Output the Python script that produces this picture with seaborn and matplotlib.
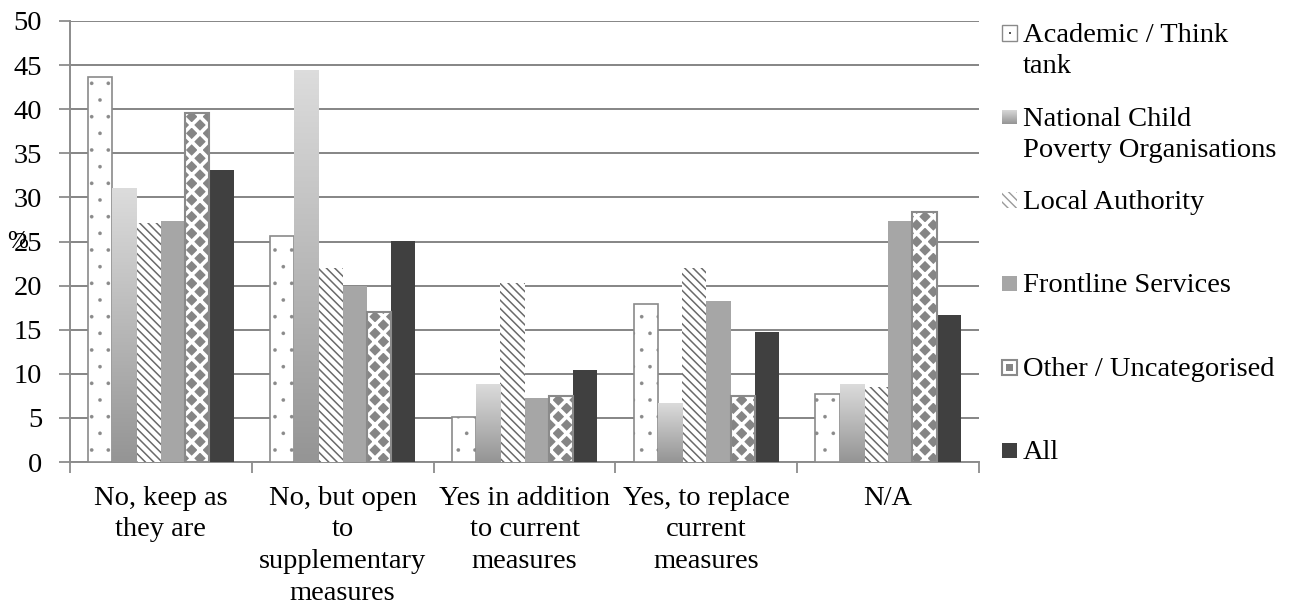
import numpy as np
import pandas as pd
import matplotlib
matplotlib.use("Agg")
import matplotlib.pyplot as plt
import seaborn as sns
from matplotlib.colors import LinearSegmentedColormap
from matplotlib.patches import Rectangle

responses = [
    "No, keep as\nthey are",
    "No, but open\nto\nsupplementary\nmeasures",
    "Yes in addition\nto current\nmeasures",
    "Yes, to replace\ncurrent\nmeasures",
    "N/A",
]
groups = [
    "Academic / Think tank",
    "National Child Poverty Organisations",
    "Local Authority",
    "Frontline Services",
    "Other / Uncategorised",
    "All",
]
legend_labels = [
    "Academic / Think\ntank",
    "National Child\nPoverty Organisations",
    "Local Authority",
    "Frontline Services",
    "Other / Uncategorised",
    "All",
]
academic = [43.6, 25.6, 5.1, 17.9, 7.7]
national = [31.1, 44.4, 8.9, 6.7, 8.9]
local_auth = [27.1, 22.0, 20.3, 22.0, 8.5]
frontline = [27.3, 20.0, 7.3, 18.2, 27.3]
other = [39.6, 17.0, 7.5, 7.5, 28.3]
all_resp = [33.1, 25.1, 10.4, 14.7, 16.7]
y_ticks = [0, 5, 10, 15, 20, 25, 30, 35, 40, 45, 50]

series = [academic, national, local_auth, frontline, other, all_resp]
df = pd.DataFrame(
    [(r, g, v) for g, vals in zip(groups, series) for r, v in zip(responses, vals)],
    columns=["response", "group", "pct"],
)

sns.set_theme(style="white")
plt.rcParams["font.family"] = ["Liberation Serif", "DejaVu Serif"]
for key in ["text.color", "axes.labelcolor", "xtick.labelcolor", "ytick.labelcolor"]:
    plt.rcParams[key] = "black"
FS = 20.5

fig = plt.figure(figsize=(13, 6.1), dpi=100)
W, H = 1300, 610
ax = fig.add_axes([70 / W, 1 - 462 / H, (979 - 70) / W, (462 - 21) / H])

palette = ["#ffffff", "#bdbdbd", "#ffffff", "#a6a6a6", "#858585", "#404040"]
sns.barplot(data=df, x="response", y="pct", hue="group", order=responses,
            hue_order=groups, palette=palette, width=0.8, saturation=1,
            legend=False, ax=ax, zorder=3)

def set_hlw(p, lw):
    if hasattr(p, "set_hatch_linewidth"):
        p.set_hatch_linewidth(lw)
    else:
        p._hatch_linewidth = lw

grad = LinearSegmentedColormap.from_list("g", ["#959595", "#dcdcdc"])
for i, cont in enumerate(ax.containers):
    for p in cont.patches:
        x, w, h = p.get_x(), p.get_width(), p.get_height()
        if i == 0:
            p.set_facecolor("white"); p.set_edgecolor("#8a8a8a")
            p.set_hatch("."); p.set_linewidth(1.2); set_hlw(p, 0.2)
        elif i == 1:
            p.set_linewidth(0)
            im = ax.imshow(np.linspace(0, 1, 100).reshape(-1, 1)[::-1], cmap=grad,
                           extent=[x, x + w, 0, h], aspect="auto", zorder=3.1,
                           interpolation="bilinear")
            im.set_clip_path(p)
        elif i == 2:
            p.set_facecolor("white"); p.set_edgecolor("#6a6a6a")
            p.set_hatch("\\\\\\\\"); p.set_linewidth(0); set_hlw(p, 1.1)
        elif i == 3:
            p.set_linewidth(0)
        elif i == 4:
            p.set_facecolor("#858585"); p.set_edgecolor("white")
            p.set_hatch("xx"); p.set_linewidth(0); set_hlw(p, 2.6)
            ax.add_patch(Rectangle((x, 0), w, h, fill=False, edgecolor="#8a8a8a",
                                   linewidth=1.5, zorder=3.5))
        else:
            p.set_linewidth(0)

ax.set_xlim(-0.5, len(responses) - 0.5)
ax.set_ylim(0, 50)
ax.set_yticks(y_ticks)
ax.set_yticklabels([str(t) for t in y_ticks], fontsize=FS)
ax.yaxis.grid(True, color="#858585", linewidth=1.4, zorder=0)
ax.set_axisbelow(True)
ax.set_xlabel("")
ax.set_ylabel("%", rotation=0, fontsize=18, labelpad=0, va="center", ha="center")
ax.yaxis.set_label_coords(-0.058, 0.50)

ax.set_xticks(range(len(responses)))
ax.set_xticklabels(responses, fontsize=FS, linespacing=1.36, va="top")
ax.set_xticks(np.arange(-0.5, len(responses)), minor=True)
ax.tick_params(axis="x", which="major", length=0, pad=17)
ax.tick_params(axis="x", which="minor", length=8, width=1.3, color="#8c8c8c",
               direction="out", bottom=True)
ax.tick_params(axis="y", length=8, width=1.3, color="#8c8c8c", direction="out",
               left=True, pad=12)

for s in ["top", "right"]:
    ax.spines[s].set_visible(False)
for s in ["left", "bottom"]:
    ax.spines[s].set_color("#8c8c8c")
    ax.spines[s].set_linewidth(1.4)

# legend drawn on the figure
centers = [33, 117, 200, 283, 367, 450]
sq = 15
for i, (lab, cy) in enumerate(zip(legend_labels, centers)):
    x0 = 1002 / W
    y0 = 1 - (cy + sq / 2) / H
    kw = dict(transform=fig.transFigure, figure=fig, zorder=5)
    if i == 0:
        r = Rectangle((x0, y0), sq / W, sq / H, facecolor="white",
                      edgecolor="#8a8a8a", linewidth=1.0, **kw)
        fig.patches.append(r)
        fig.patches.append(Rectangle((x0 + 7 / W, y0 + 7 / H), 1.5 / W, 1.5 / H,
                                     facecolor="#555", linewidth=0, **kw))
    elif i == 1:
        gax = fig.add_axes([x0, y0, sq / W, sq / H])
        gax.imshow(np.linspace(0, 1, 50).reshape(-1, 1)[::-1], cmap=grad,
                   aspect="auto", interpolation="bilinear")
        gax.set_axis_off()
    elif i == 2:
        r = Rectangle((x0, y0), sq / W, sq / H, facecolor="white",
                      edgecolor="#9a9a9a", hatch="\\\\\\\\", linewidth=0, **kw)
        set_hlw(r, 1.0)
        fig.patches.append(r)
    elif i == 3:
        fig.patches.append(Rectangle((x0, y0), sq / W, sq / H,
                                     facecolor="#a6a6a6", linewidth=0, **kw))
    elif i == 4:
        fig.patches.append(Rectangle((x0, y0), sq / W, sq / H, facecolor="white",
                                     edgecolor="#8a8a8a", linewidth=1.5, **kw))
        fig.patches.append(Rectangle((x0 + 4 / W, y0 + 4 / H), 7 / W, 7 / H,
                                     facecolor="#858585", linewidth=0, **kw))
    else:
        fig.patches.append(Rectangle((x0, y0), sq / W, sq / H,
                                     facecolor="#404040", linewidth=0, **kw))
    fig.text(1023 / W, 1 - (cy - 10) / H, lab, fontsize=FS, va="top",
             ha="left", linespacing=1.3)

fig.savefig("out.png", dpi=100)
